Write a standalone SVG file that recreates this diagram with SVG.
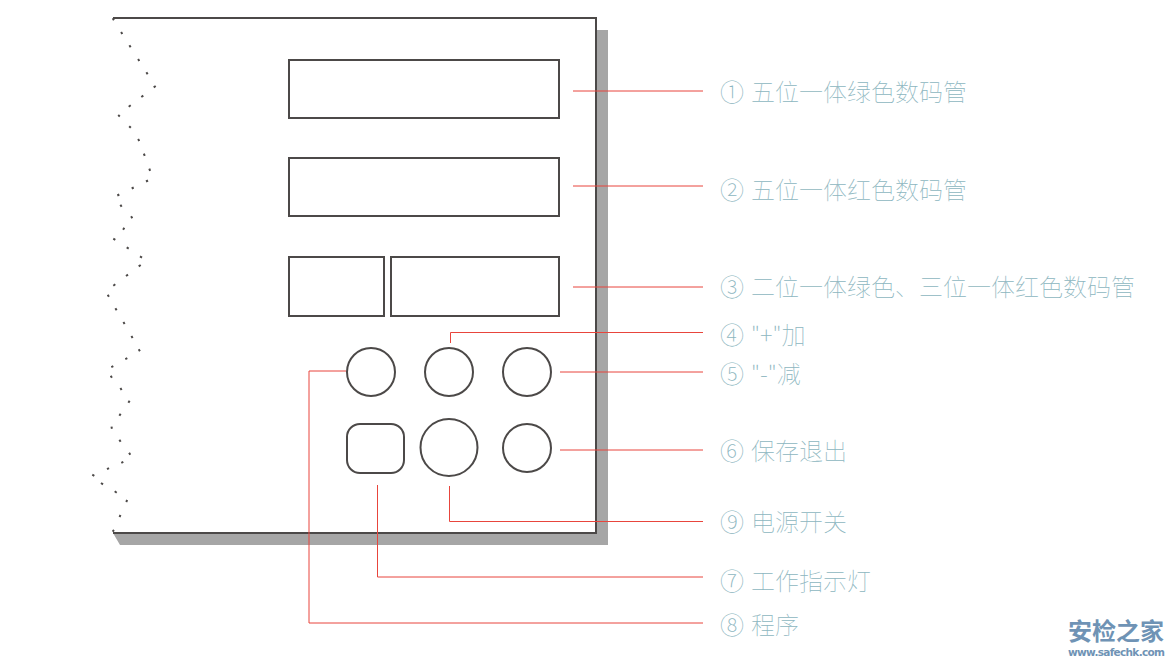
<svg xmlns="http://www.w3.org/2000/svg" width="1166" height="664" viewBox="0 0 1166 664">
<style>
.s{fill:none;stroke:#4c4948;stroke-width:2}
.d{fill:none;stroke:#4c4948;stroke-width:2}
.r{fill:none;stroke:#e8453c;stroke-width:1}
.t{font-family:"Noto Sans CJK SC","Noto Sans CJK JP",sans-serif;font-size:24px;font-weight:100;fill:#8db6c0}
.w{font-family:"Noto Sans CJK SC",sans-serif;font-weight:700;fill:#6f93b5}
</style>
<rect width="1166" height="664" fill="#fff"/>
<g id="panel">
<path d="M597 30H608V545H120L113 533H597Z" fill="#a6a6a6"/>
<path class="s" d="M113 18H596V533H113"/>
<path class="d" d="M112.7 18.2l1.2 2M121.1 32l1.2 2M129.4 45.3l1.2 2M138.1 59l1.2 2M146.4 72.3l1.2 2M155.7 86l-2 1.4M143.3 95.6l-2 1.4M130.7 105.3l-2 1.4M118.2 115l1.6 1.4M129.2 126.2l1.6 1.6M138.1 139l1.2 2M143.9 153.6l.8 2.2M149.3 168.6l.8 2.2M148 180.5l-2 1M133.7 187.5l-2 1M119.3 194.5l-2 1M120.4 204.7l1.2 2M131.1 216.3l1.2 2M124.3 227.7l-1.2 2M113.3 238.7l2 1.2M126.7 247.4l2 1.2M140 256.4l2 1.2M140.7 265l-2 1.4M128 274.6l-2 1.4M115.3 284.3l-2 1.4M107.7 294.7l1.2 2M115.4 308.3l1.2 2M123.4 322l1.2 2M131.4 336l1.2 2M138.7 349.3l1.2 2M127.3 358.2l-2 1M113.3 366.2l-2 1M110.7 375.7l1.2 2M120.4 388l1.2 2M129.6 400.7l-1.2 2M120.6 413.7l-1.2 2M111.5 426.6l.4 2.2M119.4 439.7l1.2 2M129.1 452.7l1.2 2M123.3 461.8l-2 1M109 468.2l-2 1M92.3 474.7l2 1.2M101 483l2 1.4M114.7 491.3l2 1.4M127.2 500l-1 2M120.5 515l-1 2M114 530l-1.4 1.6"/>
</g>
<g id="display-1"><rect class="s" x="289" y="60" width="270" height="58"/></g>
<g id="display-2"><rect class="s" x="289" y="158" width="270" height="58"/></g>
<g id="display-3a"><rect class="s" x="289" y="257" width="95" height="59"/></g>
<g id="display-3b"><rect class="s" x="391" y="257" width="168" height="59"/></g>
<g id="button-program"><circle class="s" cx="371" cy="372" r="24"/></g>
<g id="button-plus"><circle class="s" cx="449" cy="372" r="24"/></g>
<g id="button-minus"><circle class="s" cx="527" cy="372" r="24"/></g>
<g id="indicator"><rect class="s" x="347" y="424" width="57" height="49" rx="13"/></g>
<g id="power"><circle class="s" cx="449" cy="447.5" r="28.5"/></g>
<g id="button-save"><circle class="s" cx="527" cy="448" r="24"/></g>
<g id="connectors">
<path class="r" d="M573 91H703"/>
<path class="r" d="M573 186H703"/>
<path class="r" d="M573 287H703"/>
<path class="r" d="M450.500 343V332.500H703"/>
<path class="r" d="M560 372H703"/>
<path class="r" d="M560 450H703"/>
<path class="r" d="M449.500 486V521.500H703"/>
<path class="r" d="M377.500 485V577H703"/>
<path class="r" d="M346 371H309V623H703"/>
</g>
<g id="labels">
<g id="label-1"><text class="t" x="720" y="101">①<tspan x="751">五位一体绿色数码管</tspan></text></g>
<g id="label-2"><text class="t" x="720" y="199">②<tspan x="751">五位一体红色数码管</tspan></text></g>
<g id="label-3"><text class="t" x="720" y="296">③<tspan x="751">二位一体绿色、三位一体红色数码管</tspan></text></g>
<g id="label-4"><text class="t" x="720" y="344">④<tspan x="751">"+"加</tspan></text></g>
<g id="label-5"><text class="t" x="720" y="383">⑤<tspan x="751">"-"减</tspan></text></g>
<g id="label-6"><text class="t" x="720" y="460">⑥<tspan x="751">保存退出</tspan></text></g>
<g id="label-9"><text class="t" x="720" y="531">⑨<tspan x="751">电源开关</tspan></text></g>
<g id="label-7"><text class="t" x="720" y="590">⑦<tspan x="751">工作指示灯</tspan></text></g>
<g id="label-8"><text class="t" x="720" y="634">⑧<tspan x="751">程序</tspan></text></g>
</g>
<g id="watermark">
<text class="w" x="1068" y="640" font-size="24">安检之家</text>
<text class="w" x="1068" y="656" font-size="10.500" font-family="Liberation Sans" style="font-family:'DejaVu Sans',sans-serif" textLength="97">www.safechk.com</text>
</g>
</svg>
